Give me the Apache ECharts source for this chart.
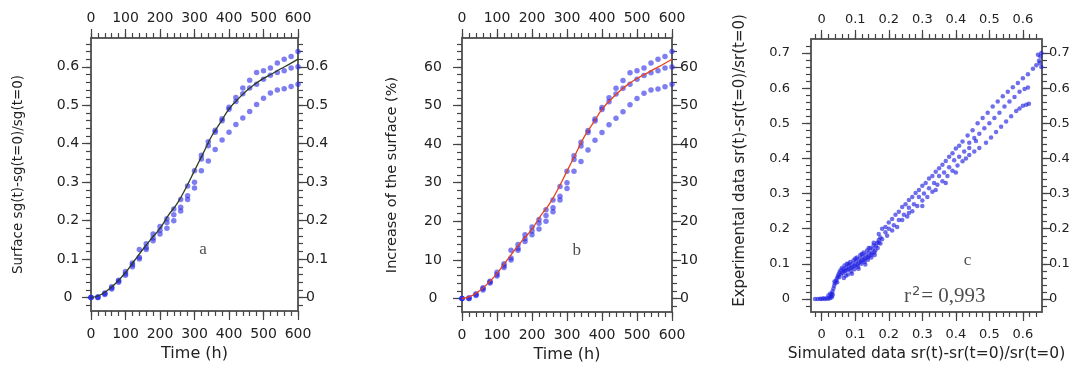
<!DOCTYPE html>
<html>
<head>
<meta charset="utf-8">
<script src="https://cdn.jsdelivr.net/npm/echarts@6/dist/echarts.min.js"></script>
<style>
  html, body { margin: 0; padding: 0; background: #fff; }
  #main { width: 1090px; height: 369px; }
</style>
</head>
<body>
<div id="main"></div>
<script>
// sample times (h) of the measured points, panels a and b
var times = [0,20,40,60,80,100,120,140,160,180,200,220,240,260,280,300,320,340,360,380,400,420,440,460,480,500,520,540,560,580,600];
// panel a : relative surface, three experiments
var expA1 = [0,0.002,0.012,0.028,0.045,0.068,0.09,0.125,0.14,0.165,0.185,0.205,0.23,0.255,0.29,0.33,0.37,0.405,0.435,0.465,0.495,0.52,0.545,0.565,0.585,0.59,0.597,0.61,0.62,0.627,0.64];
var expA2 = [0,0,0.01,0.025,0.043,0.062,0.085,0.105,0.13,0.155,0.175,0.195,0.215,0.235,0.265,0.3,0.36,0.395,0.43,0.46,0.49,0.51,0.53,0.545,0.555,0.568,0.578,0.585,0.59,0.597,0.6];
var expA3 = [0,0,0.008,0.022,0.04,0.058,0.08,0.1,0.125,0.148,0.165,0.18,0.2,0.225,0.255,0.285,0.33,0.355,0.385,0.41,0.43,0.45,0.467,0.484,0.502,0.518,0.532,0.54,0.543,0.549,0.555];
// simulated curve
var modelT = [0,25,50,75,100,125,150,175,200,225,250,275,300,325,350,375,400,425,450,475,500,525,550,575,600];
var modelA = [0,0.006,0.02,0.04,0.065,0.095,0.125,0.153,0.18,0.215,0.245,0.285,0.33,0.375,0.42,0.455,0.49,0.515,0.537,0.555,0.57,0.582,0.595,0.607,0.62];
// panel b : increase of the surface (%)
var expB1 = [0,0.2,1.2,2.8,4.5,6.8,9,12.5,14,16.5,18.5,20.5,23,25.5,29,33,37,40.5,43.5,46.5,49.5,52,54.5,56.5,58.5,59,59.7,61,62,62.7,64];
var expB2 = [0,0,1,2.5,4.3,6.2,8.5,10.5,13,15.5,17.5,19.5,21.5,23.5,26.5,30,36,39.5,43,46,49,51,53,54.5,55.5,56.8,57.8,58.5,59,59.7,60];
var expB3 = [0,0,0.8,2.2,4,5.8,8,10,12.5,14.8,16.5,18,20,22.5,25.5,28.5,33,35.5,38.5,41,43,45,46.7,48.4,50.2,51.8,53.2,54,54.3,54.9,55.5];
var modelB = [0,0.6,2,4,6.5,9.5,12.5,15.3,18,21.5,24.5,28.5,33,37.5,42,45.5,49,51.5,53.7,55.5,57,58.2,59.5,60.7,62];
// panel c : experimental vs simulated, [simulated, experimental]
var cStart = [[-0.02,0],[-0.012,0],[-0.005,0.001],[0,0],[0.005,0.002],[0.01,0],[0.015,0.002],[0.02,0.001],[0.025,0.003],[0.028,0.008],[0.03,0.015],[0.032,0.022],[0.035,0.03],[0.037,0.038],[0.04,0.045],[0.043,0.052],[0.045,0.058],[0.048,0.064],[0.05,0.07],[0.053,0.076],[0.056,0.082],[0.06,0.088],[0.038,0.05],[0.046,0.048],[0.052,0.062],[0.058,0.07],[0.066,0.06],[0.02,0.01],[0.025,0.015],[0.03,0.005],[0.033,0.012]];
var cBand = [[0.062,0.075],[0.065,0.085],[0.068,0.095],[0.07,0.08],[0.073,0.09],[0.075,0.1],[0.078,0.07],[0.08,0.085],[0.082,0.095],[0.085,0.105],[0.088,0.078],[0.09,0.09],[0.092,0.1],[0.095,0.11],[0.098,0.085],[0.1,0.097],[0.102,0.108],[0.105,0.118],[0.108,0.092],[0.11,0.103],[0.112,0.114],[0.115,0.125],[0.118,0.1],[0.12,0.11],[0.122,0.12],[0.125,0.132],[0.128,0.105],[0.13,0.116],[0.132,0.127],[0.135,0.138],[0.138,0.112],[0.14,0.122],[0.142,0.133],[0.145,0.145],[0.148,0.118],[0.15,0.13],[0.152,0.142],[0.155,0.153],[0.158,0.125],[0.16,0.138],[0.162,0.15],[0.165,0.16],[0.072,0.066],[0.09,0.072],[0.11,0.086],[0.13,0.098],[0.067,0.078],[0.077,0.083],[0.087,0.088],[0.097,0.093],[0.107,0.098],[0.117,0.106],[0.127,0.112],[0.137,0.118],[0.147,0.125],[0.157,0.132],[0.167,0.145],[0.17,0.168],[0.175,0.158],[0.08,0.1],[0.1,0.115],[0.12,0.128],[0.14,0.145],[0.155,0.16]];
var cUpper = [[0.17,0.185],[0.18,0.2],[0.19,0.205],[0.2,0.218],[0.21,0.228],[0.22,0.24],[0.23,0.248],[0.24,0.262],[0.25,0.27],[0.26,0.282],[0.27,0.29],[0.28,0.302],[0.29,0.31],[0.3,0.322],[0.31,0.33],[0.32,0.343],[0.33,0.35],[0.34,0.362],[0.35,0.372],[0.36,0.382],[0.37,0.393],[0.38,0.405],[0.39,0.415],[0.4,0.428],[0.41,0.436],[0.42,0.448],[0.435,0.465],[0.45,0.48],[0.465,0.5],[0.48,0.515],[0.495,0.53],[0.51,0.548],[0.525,0.562],[0.54,0.577],[0.555,0.59],[0.57,0.603],[0.585,0.615],[0.6,0.628],[0.615,0.64],[0.63,0.655],[0.64,0.665],[0.648,0.678],[0.652,0.69],[0.655,0.7],[0.65,0.672],[0.655,0.66],[0.645,0.695]];
var cMid = [[0.17,0.16],[0.18,0.17],[0.195,0.18],[0.21,0.195],[0.225,0.205],[0.24,0.225],[0.255,0.235],[0.27,0.25],[0.285,0.265],[0.3,0.28],[0.315,0.29],[0.33,0.305],[0.345,0.325],[0.36,0.335],[0.375,0.35],[0.39,0.365],[0.405,0.38],[0.44,0.445],[0.455,0.458],[0.47,0.47],[0.485,0.486],[0.5,0.5],[0.515,0.515],[0.53,0.53],[0.545,0.548],[0.56,0.562],[0.575,0.575],[0.59,0.59],[0.605,0.598],[0.615,0.602]];
var cScatter = [[0.175,0.175],[0.19,0.19],[0.2,0.2],[0.215,0.21],[0.23,0.225],[0.245,0.24],[0.26,0.26],[0.275,0.27],[0.29,0.29],[0.305,0.3],[0.32,0.315],[0.335,0.33],[0.35,0.35],[0.365,0.36],[0.38,0.375],[0.395,0.395],[0.41,0.405],[0.425,0.42],[0.26,0.245],[0.3,0.265],[0.34,0.31],[0.37,0.33],[0.4,0.36],[0.43,0.4],[0.44,0.43],[0.46,0.45]];
var cLower = [[0.42,0.392],[0.44,0.41],[0.455,0.42],[0.47,0.43],[0.49,0.445],[0.505,0.46],[0.52,0.475],[0.535,0.49],[0.55,0.505],[0.565,0.52],[0.58,0.535],[0.59,0.542],[0.6,0.55],[0.61,0.553],[0.618,0.556]];

// tick labels
var ticksTime = [0,100,200,300,400,500,600];
var ticksA = [0,0.1,0.2,0.3,0.4,0.5,0.6];
var ticksB = [0,10,20,30,40,50,60];
var ticksCx = [0,0.1,0.2,0.3,0.4,0.5,0.6];
var ticksCy = [0,0.1,0.2,0.3,0.4,0.5,0.6,0.7];

function steps(from, to, step) {
    var out = [];
    var n = Math.round((to - from) / step);
    for (var i = 0; i <= n; i++) out.push(+(from + i * step).toFixed(4));
    return out;
}

var axisColor = '#555';
var font = 'DejaVu Sans';

// panel boxes; each one is drawn twice: once with labelled major ticks, once with minor ticks
var boxes = [
    { left: 91, top: 38, width: 207, height: 273 },
    { left: 462, top: 38, width: 210, height: 274 },
    { left: 811, top: 39, width: 231, height: 273 }
];
var ranges = [
    { x: [0, 600], y: [-0.035, 0.675], xt: ticksTime, yt: ticksA, xm: steps(0, 600, 20), ym: steps(-0.02, 0.66, 0.02) },
    { x: [0, 600], y: [-3.5, 67.5], xt: ticksTime, yt: ticksB, xm: steps(0, 600, 20), ym: steps(-2, 66, 2) },
    { x: [-0.032, 0.657], y: [-0.037, 0.74], xt: ticksCx, yt: ticksCy, xm: steps(-0.02, 0.64, 0.02), ym: steps(-0.02, 0.72, 0.02) }
];

function axis(gridIndex, position, ext, ticks, tickLen, label, extra) {
    return Object.assign({
        type: 'value', gridIndex: gridIndex, position: position, min: ext[0], max: ext[1],
        splitLine: { show: false },
        axisLine: { show: true, onZero: false, lineStyle: { color: axisColor, width: 1.5 } },
        axisTick: { show: true, customValues: ticks, length: tickLen, lineStyle: { color: '#444', width: 1.2 } },
        axisLabel: label ? Object.assign({ show: true, customValues: ticks, color: '#222', fontFamily: font, fontSize: 14 }, label) : { show: false }
    }, extra || {});
}

var xLabel = [{ margin: 16 }, { margin: 16 }, { margin: 16, fontSize: 13 }];
var xTop = [{ margin: 13 }, { margin: 13 }, { margin: 13, fontSize: 13 }];
var yLeft = [{ margin: 23, align: 'center' }, { margin: 29, align: 'center' }, { margin: 21, fontSize: 13 }];
var yRight = [{ margin: 8 }, { margin: 8 }, { margin: 7, fontSize: 13 }];
var xNames = [
    { name: 'Time (h)', nameLocation: 'middle', nameGap: 33, nameTextStyle: { color: '#222', fontFamily: font, fontSize: 16 } },
    { name: 'Time (h)', nameLocation: 'middle', nameGap: 33, nameTextStyle: { color: '#222', fontFamily: font, fontSize: 16 } },
    { name: 'Simulated data sr(t)-sr(t=0)/sr(t=0)', nameLocation: 'middle', nameGap: 26, nameTextStyle: { color: '#222', fontFamily: font, fontSize: 15.5 } }
];
var yNames = [
    { name: 'Surface sg(t)-sg(t=0)/sg(t=0)', nameLocation: 'middle', nameGap: 66, nameTextStyle: { color: '#222', fontFamily: font, fontSize: 13.5 } },
    { name: 'Increase of the surface (%)', nameLocation: 'middle', nameGap: 62, nameTextStyle: { color: '#222', fontFamily: font, fontSize: 14.5 } },
    { name: 'Experimental data sr(t)-sr(t=0)/sr(t=0)', nameLocation: 'middle', nameGap: 63,
      nameTextStyle: { color: '#222', fontFamily: font, fontSize: 15, padding: [0, 0, 0, 30] } }
];

var grids = [], xAxes = [], yAxes = [];
boxes.forEach(function (b) { grids.push(Object.assign({ outerBoundsMode: 'none' }, b)); });
boxes.forEach(function (b) { grids.push(Object.assign({ outerBoundsMode: 'none' }, b)); });
// major axes: grid g -> x index 2g (bottom), 2g+1 (top); y index 2g (left), 2g+1 (right)
ranges.forEach(function (r, g) {
    xAxes.push(axis(g, 'bottom', r.x, r.xt, 9, xLabel[g], xNames[g]));
    xAxes.push(axis(g, 'top', r.x, r.xt, 9, xTop[g]));
    yAxes.push(axis(g, 'left', r.y, r.yt, 9, yLeft[g], yNames[g]));
    yAxes.push(axis(g, 'right', r.y, r.yt, 9, yRight[g]));
});
// minor ticks on the overlaid grids
ranges.forEach(function (r, g) {
    xAxes.push(axis(g + 3, 'bottom', r.x, r.xm, 5, null));
    xAxes.push(axis(g + 3, 'top', r.x, r.xm, 5, null));
    yAxes.push(axis(g + 3, 'left', r.y, r.ym, 5, null));
    yAxes.push(axis(g + 3, 'right', r.y, r.ym, 5, null));
});

function pairs(xs, ys) {
    return xs.map(function (x, i) { return [x, ys[i]]; });
}

function dots(grid, ys) {
    return {
        type: 'scatter', xAxisIndex: grid * 2, yAxisIndex: grid * 2,
        symbolSize: 5.5, itemStyle: { color: 'rgba(40,40,232,0.75)' }, data: pairs(times, ys), z: 3
    };
}

function note(grid, pos, text, size) {
    return {
        type: 'scatter', xAxisIndex: grid * 2, yAxisIndex: grid * 2,
        symbolSize: 0, silent: true, data: [pos],
        label: { show: true, position: 'inside', formatter: text,
                 fontFamily: 'Liberation Serif', fontSize: size || 17, color: '#222',
                 rich: {
                     s: { fontFamily: 'Liberation Serif', fontSize: 21, color: '#222' },
                     p: { fontFamily: font, fontSize: 13, color: '#222', padding: [0, 1, 11, 1] }
                 } }
    };
}

var cDots = [cStart, cBand, cUpper, cMid, cScatter, cLower].map(function (d) {
    return {
        type: 'scatter', xAxisIndex: 4, yAxisIndex: 4, symbolSize: 4.5,
        itemStyle: { color: 'rgba(30,30,225,0.8)' }, data: d
    };
});

var option = {
    backgroundColor: '#fff',
    animation: false,
    grid: grids,
    xAxis: xAxes,
    yAxis: yAxes,
    series: [
        dots(0, expA1), dots(0, expA2), dots(0, expA3),
        { type: 'line', xAxisIndex: 0, yAxisIndex: 0, smooth: true, showSymbol: false,
          lineStyle: { color: '#2e3b24', width: 1.3 }, data: pairs(modelT, modelA), z: 4 },
        dots(1, expB1), dots(1, expB2), dots(1, expB3),
        { type: 'line', xAxisIndex: 2, yAxisIndex: 2, smooth: true, showSymbol: false,
          lineStyle: { color: '#e5421e', width: 1.3 }, data: pairs(modelT, modelB), z: 4 },
        note(0, [325, 0.125], 'a'),
        note(1, [328, 12.5], 'b'),
        note(2, [0.435, 0.11], 'c'),
        note(2, [0.367, 0.006], '{s|r}{p|2}{s|= 0,993}', 21)
    ].concat(cDots)
};

var chart = echarts.init(document.getElementById('main'));
chart.setOption(option);
</script>
</body>
</html>
